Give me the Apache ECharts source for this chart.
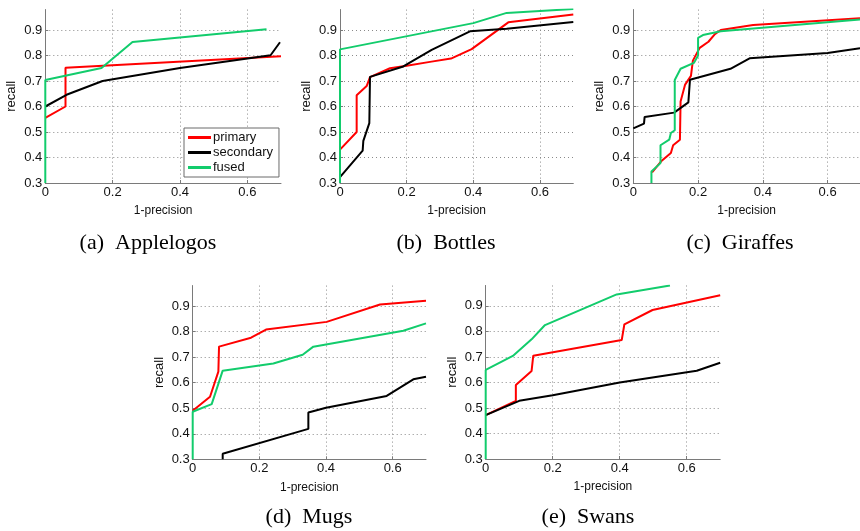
<!DOCTYPE html>
<html>
<head>
<meta charset="utf-8">
<script src="https://cdn.jsdelivr.net/npm/echarts@6/dist/echarts.min.js"></script>
<style>
  html, body { margin: 0; padding: 0; background: #fff; }
  #chart { width: 860px; height: 531px; }
</style>
</head>
<body>
<div id="chart"></div>
<script>
// recall vs 1-precision curves, points as [1-precision, recall]
const seriesNames = ["primary", "secondary", "fused"];
const panelCaptions = ["(a)  Applelogos", "(b)  Bottles", "(c)  Giraffes", "(d)  Mugs", "(e)  Swans"];
const xTicks = [0, 0.2, 0.4, 0.6];
const yTicks = [0.3, 0.4, 0.5, 0.6, 0.7, 0.8, 0.9];

const applelogosPrimary = [[0, 0.555], [0.06, 0.6], [0.06, 0.752], [0.7, 0.797]];
const applelogosSecondary = [[0, 0.6], [0.063, 0.646], [0.17, 0.7], [0.4, 0.751], [0.669, 0.801], [0.697, 0.852]];
const applelogosFused = [[0, 0.3], [0, 0.704], [0.167, 0.751], [0.259, 0.853], [0.657, 0.903]];

const bottlesPrimary = [[0, 0.431], [0.05, 0.5], [0.05, 0.644], [0.08, 0.68], [0.09, 0.715], [0.15, 0.75],
  [0.2, 0.76], [0.27, 0.775], [0.333, 0.788], [0.395, 0.825], [0.505, 0.93], [0.7, 0.961]];
const bottlesSecondary = [[0, 0.323], [0.068, 0.427], [0.07, 0.465], [0.088, 0.535], [0.09, 0.716],
  [0.19, 0.757], [0.275, 0.822], [0.39, 0.895], [0.5, 0.905], [0.7, 0.931]];
const bottlesFused = [[0, 0.3], [0, 0.824], [0.4, 0.927], [0.5, 0.967], [0.7, 0.982]];

const giraffesPrimary = [[0.058, 0.342], [0.086, 0.385], [0.116, 0.418], [0.123, 0.448], [0.144, 0.47],
  [0.146, 0.62], [0.16, 0.686], [0.178, 0.72], [0.184, 0.78], [0.205, 0.83], [0.232, 0.854],
  [0.252, 0.884], [0.27, 0.9], [0.37, 0.92], [0.7, 0.946]];
const giraffesSecondary = [[0, 0.514], [0.033, 0.533], [0.035, 0.559], [0.126, 0.576], [0.17, 0.616],
  [0.175, 0.705], [0.3, 0.748], [0.359, 0.789], [0.6, 0.81], [0.7, 0.828]];
const giraffesFused = [[0.056, 0.3], [0.056, 0.345], [0.084, 0.378], [0.084, 0.448], [0.111, 0.47],
  [0.116, 0.496], [0.128, 0.507], [0.128, 0.704], [0.146, 0.748], [0.187, 0.771], [0.2, 0.8],
  [0.2, 0.869], [0.215, 0.88], [0.27, 0.895], [0.7, 0.941]];

const mugsPrimary = [[0, 0.49], [0.052, 0.545], [0.077, 0.643], [0.079, 0.741], [0.175, 0.776],
  [0.22, 0.808], [0.402, 0.838], [0.562, 0.906], [0.7, 0.921]];
const mugsSecondary = [[0.09, 0.3], [0.09, 0.322], [0.347, 0.419], [0.347, 0.483], [0.4, 0.502],
  [0.582, 0.548], [0.662, 0.613], [0.7, 0.623]];
const mugsFused = [[0, 0.3], [0, 0.486], [0.057, 0.516], [0.09, 0.647], [0.242, 0.675], [0.33, 0.709],
  [0.362, 0.741], [0.632, 0.803], [0.7, 0.832]];

const swansPrimary = [[0, 0.472], [0.09, 0.528], [0.09, 0.59], [0.137, 0.645], [0.142, 0.705],
  [0.406, 0.766], [0.414, 0.828], [0.498, 0.884], [0.7, 0.942]];
const swansSecondary = [[0, 0.472], [0.1, 0.528], [0.2, 0.55], [0.4, 0.6], [0.63, 0.646], [0.7, 0.677]];
const swansFused = [[0, 0.3], [0, 0.649], [0.081, 0.704], [0.137, 0.769], [0.177, 0.825],
  [0.391, 0.945], [0.55, 0.98]];

const panelData = [
  [applelogosPrimary, applelogosSecondary, applelogosFused],
  [bottlesPrimary, bottlesSecondary, bottlesFused],
  [giraffesPrimary, giraffesSecondary, giraffesFused],
  [mugsPrimary, mugsSecondary, mugsFused],
  [swansPrimary, swansSecondary, swansFused],
];

const colors = ["#ff0000", "#000000", "#12cc6c"];

// plot boxes in page pixels
const boxes = [
  { left: 45.3, top: 9.6, width: 235.7, height: 173.4 },
  { left: 340, top: 9.6, width: 233.3, height: 173.4 },
  { left: 633.3, top: 9.6, width: 231, height: 173.4 },
  { left: 192.7, top: 285.6, width: 233.3, height: 173.7 },
  { left: 485.7, top: 285.5, width: 234.5, height: 173.5 },
];
const captionPos = [[148, 243], [446, 243], [740, 243], [309, 517], [588, 517]];

const axisFont = { fontFamily: "Liberation Sans, Arial, sans-serif", color: "#111" };
const gridLine = { show: true, lineStyle: { type: [1, 3], color: "#8a8a8a", width: 1 }, showMaxLine: false };

const chart = echarts.init(document.getElementById("chart"), null, { renderer: "canvas" });

const grid = boxes.map((b) => ({ ...b, containLabel: false }));

const xAxis = boxes.map((b, i) => ({
  type: "value",
  gridIndex: i,
  min: xTicks[0],
  max: 0.7,
  interval: xTicks[1] - xTicks[0],
  name: "1-precision",
  nameLocation: "middle",
  nameGap: 22,
  nameTextStyle: { ...axisFont, fontSize: 12 },
  axisLine: { show: true, onZero: false, lineStyle: { color: "#7a7a7a", width: 1 } },
  axisTick: { show: true, inside: true, length: 3, lineStyle: { color: "#7a7a7a" } },
  axisLabel: { ...axisFont, fontSize: 13, margin: 3, showMaxLabel: false },
  splitLine: gridLine,
}));

const yAxis = boxes.map((b, i) => ({
  type: "value",
  gridIndex: i,
  min: yTicks[0],
  max: 0.98,
  interval: 0.1,
  name: "recall",
  nameLocation: "middle",
  nameGap: 27,
  nameTextStyle: { ...axisFont, fontSize: 13 },
  axisLine: { show: true, onZero: false, lineStyle: { color: "#7a7a7a", width: 1 } },
  axisTick: { show: true, inside: true, length: 3, lineStyle: { color: "#7a7a7a" } },
  axisLabel: {
    ...axisFont,
    fontSize: 13,
    margin: 3,
    showMaxLabel: false,
    formatter: (v) => v.toFixed(1),
  },
  splitLine: gridLine,
}));

const series = [];
panelData.forEach((curves, i) => {
  curves.forEach((pts, k) => {
    series.push({
      type: "line",
      name: seriesNames[k],
      xAxisIndex: i,
      yAxisIndex: i,
      data: pts,
      showSymbol: false,
      symbol: "none",
      clip: true,
      lineStyle: { color: colors[k], width: 2 },
      itemStyle: { color: colors[k] },
      z: 2 + k,
    });
  });
});

chart.setOption({
  animation: false,
  backgroundColor: "#fff",
  grid,
  xAxis,
  yAxis,
  legend: {
    data: seriesNames,
    orient: "vertical",
    left: 184,
    top: 128,
    padding: [3, 6, 3, 4],
    itemGap: 2,
    itemWidth: 23,
    itemHeight: 3,
    icon: "rect",
    borderColor: "#6a6a6a",
    borderWidth: 1,
    backgroundColor: "#fff",
    selectedMode: false,
    textStyle: { ...axisFont, fontSize: 13, padding: [0, 0, 0, -3] },
  },
  graphic: panelCaptions.map((t, i) => ({
    type: "text",
    x: captionPos[i][0],
    y: captionPos[i][1],
    style: {
      text: t,
      fill: "#000",
      font: "22px 'Liberation Serif', 'Times New Roman', serif",
      textAlign: "center",
      textVerticalAlign: "middle",
    },
  })),
  series,
});
</script>
</body>
</html>
